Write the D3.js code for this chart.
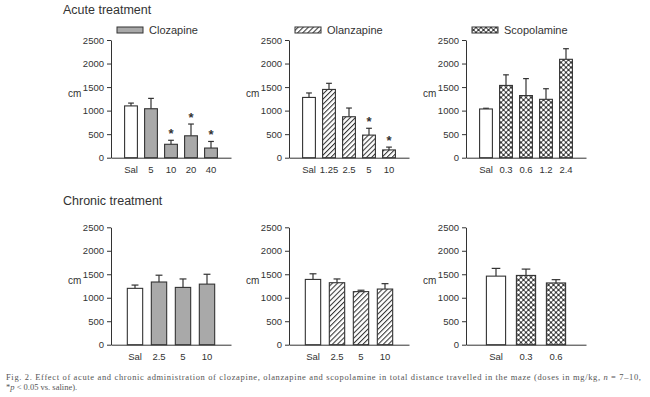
<!DOCTYPE html>
<html>
<head>
<meta charset="utf-8">
<script src="https://cdn.jsdelivr.net/npm/d3@7"></script>
<style>
  body { margin: 0; background: #fff; }
  text { font-family: "Liberation Sans", Arial, sans-serif; fill: #333; }
  .caption { font-family: "Liberation Serif", "Times New Roman", serif; fill: #555; }
</style>
</head>
<body>
<div id="chart"></div>
<script>
// Data (mean and SEM, cm)
const yTicks = [0, 500, 1000, 1500, 2000, 2500];

const acuteClozCats = ["Sal", "5", "10", "20", "40"];
const acuteClozMean = [1100, 1040, 285, 465, 205];
const acuteClozSem = [60, 220, 85, 250, 140];
const acuteClozSig = [false, false, true, true, true];

const acuteOlzCats = ["Sal", "1.25", "2.5", "5", "10"];
const acuteOlzMean = [1280, 1450, 870, 480, 165];
const acuteOlzSem = [95, 130, 185, 145, 60];
const acuteOlzSig = [false, false, false, true, true];

const acuteScopCats = ["Sal", "0.3", "0.6", "1.2", "2.4"];
const acuteScopMean = [1035, 1535, 1320, 1240, 2090];
const acuteScopSem = [15, 225, 360, 225, 225];

const chronClozCats = ["Sal", "2.5", "5", "10"];
const chronClozMean = [1200, 1335, 1220, 1290];
const chronClozSem = [70, 145, 180, 210];

const chronOlzCats = ["Sal", "2.5", "5", "10"];
const chronOlzMean = [1390, 1320, 1130, 1185];
const chronOlzSem = [120, 80, 30, 115];

const chronScopCats = ["Sal", "0.3", "0.6"];
const chronScopMean = [1460, 1475, 1315];
const chronScopSem = [165, 135, 70];

const W = 650, H = 397;

const svg = d3.select("#chart").append("svg")
    .attr("width", W)
    .attr("height", H);

// Fill patterns
const defs = svg.append("defs");

const hatch = defs.append("pattern")
    .attr("id", "hatch")
    .attr("patternUnits", "userSpaceOnUse")
    .attr("width", 3.6)
    .attr("height", 3.6)
    .attr("patternTransform", "rotate(45)");
hatch.append("rect").attr("width", 3.6).attr("height", 3.6).attr("fill", "#fff");
hatch.append("line")
    .attr("x1", 0.5).attr("y1", 0).attr("x2", 0.5).attr("y2", 3.6)
    .attr("stroke", "#333").attr("stroke-width", 1.1);

const dots = defs.append("pattern")
    .attr("id", "dots")
    .attr("patternUnits", "userSpaceOnUse")
    .attr("width", 5)
    .attr("height", 5);
dots.append("rect").attr("width", 5).attr("height", 5).attr("fill", "#3a3a3a");
[[0, 0], [5, 0], [0, 5], [5, 5], [2.5, 2.5]].forEach(p => {
    dots.append("circle")
        .attr("cx", p[0]).attr("cy", p[1]).attr("r", 1.45)
        .attr("fill", "#fff");
});

const fills = { cloz: "#a9a9a9", olz: "url(#hatch)", scop: "url(#dots)" };

// Titles
svg.append("text")
    .attr("x", 63).attr("y", 14)
    .attr("font-size", "12.5px")
    .text("Acute treatment");

svg.append("text")
    .attr("x", 63).attr("y", 205)
    .attr("font-size", "12.5px")
    .text("Chronic treatment");

function panel(x0, top, bottom, cats, mean, sem, sig, drug, legend) {
    const g = svg.append("g").attr("transform", "translate(" + x0 + ",0)");
    const axisW = 120;

    const x = d3.scaleBand()
        .domain(cats)
        .range([0, axisW])
        .paddingInner(0.36)
        .paddingOuter(0.68);

    const y = d3.scaleLinear()
        .domain([0, 2500])
        .range([bottom, top]);

    const data = cats.map((c, i) => ({ c: c, m: mean[i], s: sem[i], sig: sig ? sig[i] : false, i: i }));

    // y axis
    const yAxis = g.append("g")
        .call(d3.axisLeft(y).tickValues(yTicks).tickFormat(d3.format("d"))
            .tickSize(4).tickPadding(3).tickSizeOuter(0));
    yAxis.select(".domain").attr("stroke", "#333");
    yAxis.selectAll(".tick line").attr("stroke", "#333");
    yAxis.selectAll(".tick text")
        .attr("font-size", "9.5px")
        .attr("font-family", "Liberation Sans, Arial, sans-serif")
        .attr("fill", "#333");

    // x axis (no ticks)
    const xAxis = g.append("g")
        .attr("transform", "translate(0," + bottom + ")")
        .call(d3.axisBottom(x).tickSize(0).tickPadding(9).tickSizeOuter(0));
    xAxis.select(".domain").attr("stroke", "#333");
    xAxis.selectAll(".tick text")
        .attr("font-size", "9.5px")
        .attr("font-family", "Liberation Sans, Arial, sans-serif")
        .attr("fill", "#333");

    // y label
    g.append("text")
        .attr("x", -43)
        .attr("y", y(1500) + 10)
        .attr("font-size", "10px")
        .text("cm");

    // error bars (centred T caps)
    const capW = x.bandwidth() * 0.45;
    const cx = d => x(d.c) + x.bandwidth() / 2;
    g.selectAll(".err")
        .data(data)
      .enter().append("line")
        .attr("x1", cx)
        .attr("x2", cx)
        .attr("y1", d => y(d.m))
        .attr("y2", d => y(d.m + d.s))
        .attr("stroke", "#333")
        .attr("stroke-width", 1.2);

    g.selectAll(".cap")
        .data(data)
      .enter().append("line")
        .attr("x1", d => cx(d) - capW / 2)
        .attr("x2", d => cx(d) + capW / 2)
        .attr("y1", d => y(d.m + d.s))
        .attr("y2", d => y(d.m + d.s))
        .attr("stroke", "#333")
        .attr("stroke-width", 1.2);

    // bars
    g.selectAll(".bar")
        .data(data)
      .enter().append("rect")
        .attr("x", d => x(d.c))
        .attr("y", d => y(d.m))
        .attr("width", x.bandwidth())
        .attr("height", d => y(0) - y(d.m))
        .attr("fill", d => d.i === 0 ? "#fff" : fills[drug])
        .attr("stroke", "#333")
        .attr("stroke-width", 1.1);

    // significance stars
    g.selectAll(".star")
        .data(data.filter(d => d.sig))
      .enter().append("text")
        .attr("x", cx)
        .attr("y", d => y(d.m + d.s) - 2)
        .attr("text-anchor", "middle")
        .attr("font-size", "13px")
        .attr("font-weight", "bold")
        .text("*");

    if (legend) {
        g.append("rect")
            .attr("x", 6).attr("y", 27)
            .attr("width", 26).attr("height", 6)
            .attr("fill", fills[drug])
            .attr("stroke", "#333");
        g.append("text")
            .attr("x", 38).attr("y", 34)
            .attr("font-size", "11px")
            .text(legend);
    }
}

const acuteTop = 40, acuteBottom = 157.7;
const chronTop = 227.3, chronBottom = 344.7;

panel(111, acuteTop, acuteBottom, acuteClozCats, acuteClozMean, acuteClozSem, acuteClozSig, "cloz", "Clozapine");
panel(289, acuteTop, acuteBottom, acuteOlzCats, acuteOlzMean, acuteOlzSem, acuteOlzSig, "olz", "Olanzapine");
panel(466, acuteTop, acuteBottom, acuteScopCats, acuteScopMean, acuteScopSem, null, "scop", "Scopolamine");

panel(111, chronTop, chronBottom, chronClozCats, chronClozMean, chronClozSem, null, "cloz", null);
panel(289, chronTop, chronBottom, chronOlzCats, chronOlzMean, chronOlzSem, null, "olz", null);
panel(466, chronTop, chronBottom, chronScopCats, chronScopMean, chronScopSem, null, "scop", null);

// Figure caption
const cap1 = svg.append("text")
    .attr("class", "caption")
    .attr("x", 6).attr("y", 380)
    .attr("font-size", "8.5px")
    .attr("textLength", 635)
    .attr("lengthAdjust", "spacing");
cap1.append("tspan").text("Fig. 2. Effect of acute and chronic administration of clozapine, olanzapine and scopolamine in total distance travelled in the maze (doses in mg/kg, ");
cap1.append("tspan").attr("font-style", "italic").text("n");
cap1.append("tspan").text(" = 7\u201310,");

const cap2 = svg.append("text")
    .attr("class", "caption")
    .attr("x", 6).attr("y", 390)
    .attr("font-size", "8.5px");
cap2.append("tspan").text("*");
cap2.append("tspan").attr("font-style", "italic").text("p");
cap2.append("tspan").text(" < 0.05 vs. saline).");
</script>
</body>
</html>
